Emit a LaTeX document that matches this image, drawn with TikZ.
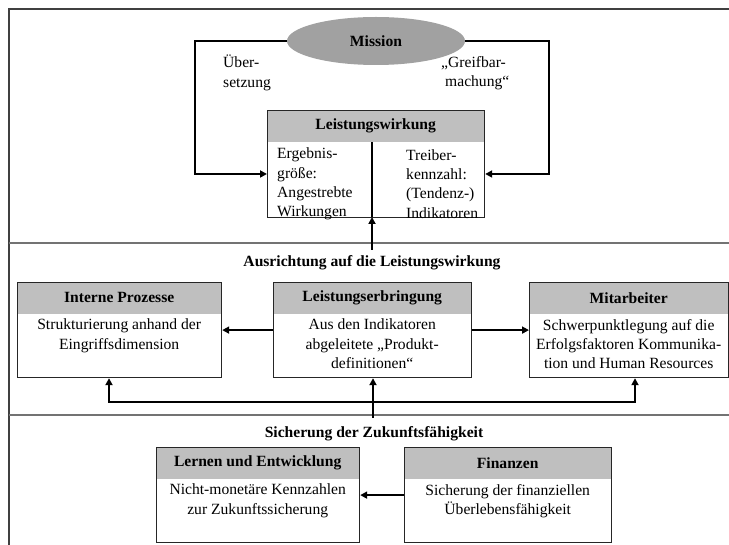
\documentclass[tikz,border=0pt]{standalone}
\usepackage{fontspec}
\setmainfont{Liberation Serif}
\usetikzlibrary{arrows.meta,shapes.geometric}

\newcommand{\diagfont}{\fontsize{15.6}{19.3}\selectfont}
\newcommand{\cardhead}{31.5}
\newcommand{\cardheight}{95}
\definecolor{headgrey}{gray}{0.75}
\definecolor{missiongrey}{gray}{0.63}

\begin{document}
\begin{tikzpicture}[x=1pt,y=-1pt,>={Triangle[length=7pt,width=7pt]},
     every node/.style={font=\diagfont},
     bold/.style={font=\diagfont\bfseries},
     conn/.style={line width=2.2pt,->},
     bar/.style={line width=2pt,black!75},
     sep/.style={line width=2pt,black!55},
     head/.style={fill=headgrey,anchor=north west,inner sep=0pt,bold},
     frame/.style={draw=black!85,line width=1.2pt,anchor=north west,inner sep=0pt},
     plain/.style={anchor=west,align=left,inner sep=0pt}]
     \useasboundingbox (0,0) rectangle (729,545);
     \draw [bar] (9,545) -- (9,9) -- (729,9);
     \draw [sep] (9,243) -- (729,243);
     \draw [sep] (9,415) -- (729,415);

     \foreach \name/\xpos/\ypos/\boxw/\boxh/\heading/\boxtext in
       {lw/267/110/217/107/Leistungswirkung/{},
        ip/17/282/204/\cardheight/Interne Prozesse/{Strukturierung anhand der\\Eingriffsdimension},
        le/273/282/198/\cardheight/Leistungserbringung/{Aus den Indikatoren\\abgeleitete „Produkt-\\definitionen“},
        ma/529/282/199/\cardheight/Mitarbeiter/{Schwerpunktlegung auf die\\Erfolgsfaktoren Kommunika-\\tion und Human Resources},
        ln/156/447/203/\cardheight/Lernen und Entwicklung/{Nicht-monetäre Kennzahlen\\zur Zukunftssicherung},
        fi/404/447/207/\cardheight/Finanzen/{Sicherung der finanziellen\\Überlebensfähigkeit}}
     {
       \node [head,minimum width=\boxw pt,minimum height=\cardhead pt] (\name-h) at (\xpos,\ypos) {\heading};
       \node [anchor=north,align=center,inner sep=0pt] at ([yshift=-5pt]\name-h.south) {\boxtext};
       \node [frame,minimum width=\boxw pt,minimum height=\boxh pt] (\name) at (\xpos,\ypos) {};
     }

     \coordinate (lwdiv) at (372,217);
     \draw [line width=1.2pt] (lwdiv) -- (lwdiv |- lw-h.south);
     \node [plain] (lwleft) at (277,184) {Ergebnis-\\größe:\\Angestrebte\\Wirkungen};
     \node [plain] (lwright) at (406,184) {Treiber-\\kennzahl:\\(Tendenz-)\\Indikatoren};

     \node [ellipse,fill=missiongrey,minimum width=178pt,minimum height=48pt,inner sep=0pt,bold] (mission) at (376,41) {Mission};
     \node [plain] (uebers) at (223,73) {Über-\\setzung};
     \node [plain] (greif) at (441,73) {„Greifbar-\\\hspace*{4pt}machung“};

     \coordinate (lturn) at (195,174);
     \coordinate (rturn) at (549,174);
     \draw [conn] (mission.west) -| (lturn) -- (lturn -| lw.west);
     \draw [conn] (mission.east) -| (rturn) -- (rturn -| lw.east);

     \node [bold] (ausr) at (372,263) {Ausrichtung auf die Leistungswirkung};
     \coordinate (ausrfoot) at (372,250);
     \draw [conn] (ausrfoot) -- (lwdiv);

     \draw [conn] (le.west) -- (ip.east);
     \draw [conn] (le.east) -- (ma.west);

     \node [bold] (sich) at (374,434) {Sicherung der Zukunftsfähigkeit};
     \coordinate (sichfoot) at (373,418);
     \coordinate (busl) at (109,402);
     \coordinate (busr) at (635,402);
     \draw [conn,<->] (busl |- ip.south) -- (busl) -- (busr) -- (busr |- ma.south);
     \draw [conn] (sichfoot) -- (sichfoot |- le.south);

     \draw [conn] (fi.west) -- (ln.east);
\end{tikzpicture}
\end{document}
